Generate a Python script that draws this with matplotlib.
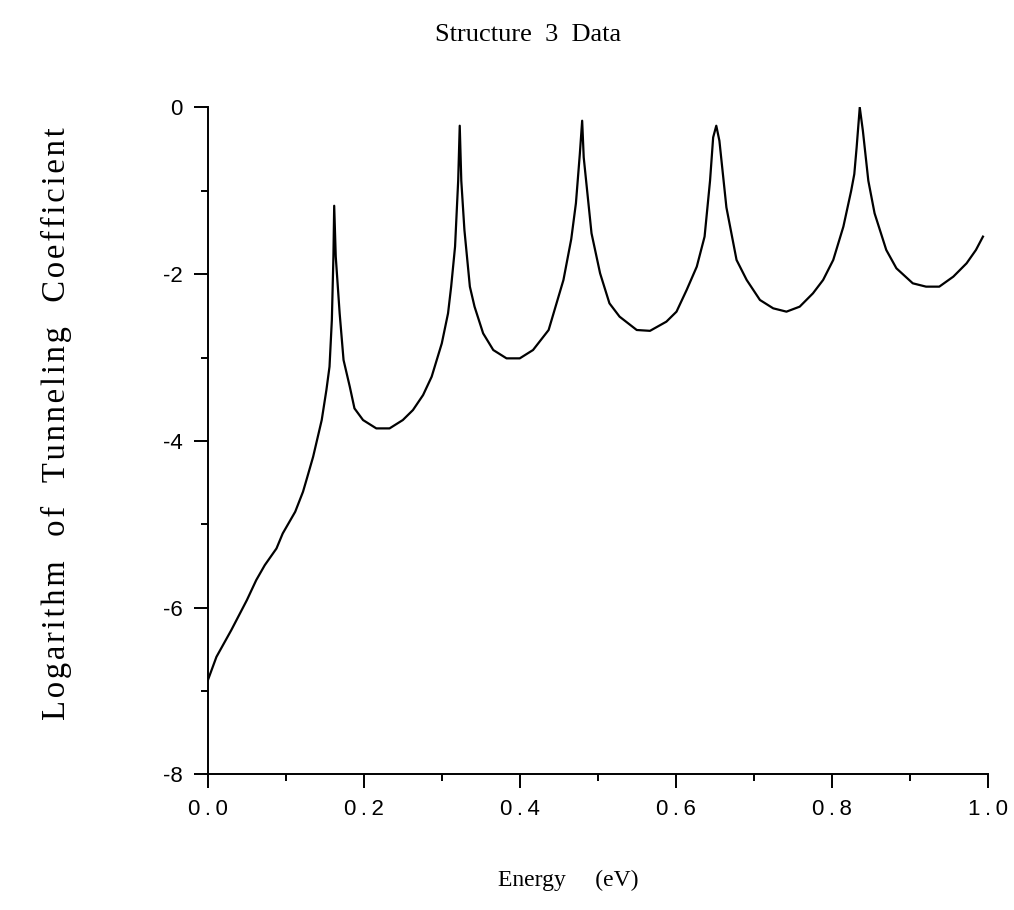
import matplotlib
matplotlib.use("Agg")
import matplotlib.pyplot as plt
import numpy as np
from matplotlib.ticker import MultipleLocator

# energy (eV) and log of tunneling coefficient
energy = [0.000, 0.011, 0.030, 0.050, 0.062, 0.073, 0.088, 0.096, 0.112, 0.122,
          0.127, 0.135, 0.146, 0.152, 0.156, 0.159, 0.161, 0.162, 0.164, 0.169,
          0.174, 0.182, 0.188, 0.199, 0.216, 0.233, 0.250, 0.263, 0.276, 0.287,
          0.300, 0.308, 0.312, 0.317, 0.321, 0.323, 0.325, 0.329, 0.336, 0.342,
          0.353, 0.366, 0.383, 0.400, 0.417, 0.437, 0.456, 0.466, 0.472, 0.477,
          0.480, 0.482, 0.492, 0.503, 0.515, 0.528, 0.550, 0.567, 0.588, 0.601,
          0.614, 0.627, 0.637, 0.644, 0.648, 0.652, 0.656, 0.665, 0.678, 0.691,
          0.708, 0.725, 0.742, 0.759, 0.776, 0.789, 0.802, 0.815, 0.825, 0.829,
          0.832, 0.836, 0.840, 0.847, 0.855, 0.870, 0.883, 0.904, 0.921, 0.938,
          0.956, 0.973, 0.985, 0.994]
log_t = [-6.87, -6.59, -6.27, -5.91, -5.67, -5.49, -5.29, -5.11, -4.85, -4.61,
         -4.45, -4.19, -3.75, -3.39, -3.11, -2.55, -1.79, -1.18, -1.79, -2.47,
         -3.03, -3.35, -3.61, -3.75, -3.85, -3.85, -3.75, -3.63, -3.45, -3.23,
         -2.83, -2.47, -2.15, -1.67, -0.88, -0.22, -0.88, -1.47, -2.15, -2.39,
         -2.71, -2.91, -3.01, -3.01, -2.91, -2.67, -2.07, -1.58, -1.15, -0.56,
         -0.16, -0.60, -1.51, -1.99, -2.35, -2.51, -2.67, -2.68, -2.57, -2.45,
         -2.19, -1.91, -1.55, -0.88, -0.36, -0.22, -0.40, -1.20, -1.83, -2.07,
         -2.31, -2.41, -2.45, -2.39, -2.23, -2.07, -1.83, -1.43, -1.00, -0.80,
         -0.48, 0.00, -0.28, -0.88, -1.27, -1.71, -1.93, -2.11, -2.15, -2.15,
         -2.03, -1.87, -1.71, -1.55]

serif = "Liberation Serif"
sans = "Liberation Sans"
THIN = "\u2009"
HAIR = "\u200a"


def spaced(text, gap="   ", tie=HAIR):
    # old plotter look: letters spread out a bit, wide gaps between words
    return gap.join(tie.join(w) for w in text.split())


fig = plt.figure(figsize=(10.14, 9.10), dpi=100)
ax = fig.add_axes([0.205, 0.149, 0.769, 0.733])

ax.plot(energy, log_t, color="black", linewidth=1.6)

ax.set_xlim(0.0, 1.0)
ax.set_ylim(-8, 0)
ax.xaxis.set_major_locator(MultipleLocator(0.2))
ax.xaxis.set_minor_locator(MultipleLocator(0.1))
ax.yaxis.set_major_locator(MultipleLocator(2))
ax.yaxis.set_minor_locator(MultipleLocator(1))
ax.xaxis.set_major_formatter(plt.FuncFormatter(lambda v, p: THIN.join(f"{v:.1f}")))
ax.yaxis.set_major_formatter(plt.FuncFormatter(lambda v, p: f"{v:.0f}"))

for side in ["top", "right"]:
    ax.spines[side].set_visible(False)
for side in ["left", "bottom"]:
    ax.spines[side].set_linewidth(1.4)

ax.tick_params(which="major", direction="out", length=10, width=1.4, pad=8)
ax.tick_params(which="minor", direction="out", length=5, width=1.4)
for lab in ax.get_xticklabels() + ax.get_yticklabels():
    lab.set_family(sans)
    lab.set_fontsize(16)

fig.text(0.521, 0.962, "Structure  3  Data", ha="center", va="center",
         family=serif, fontsize=19)
fig.text(0.560, 0.032, "Energy     (eV)", ha="center", va="center",
         family=serif, fontsize=17)
fig.text(0.056, 0.535, spaced("Logarithm of Tunneling Coefficient", "   "),
         ha="center", va="center", rotation=90, family=serif, fontsize=23.5)

plt.savefig("out.png", dpi=100)
